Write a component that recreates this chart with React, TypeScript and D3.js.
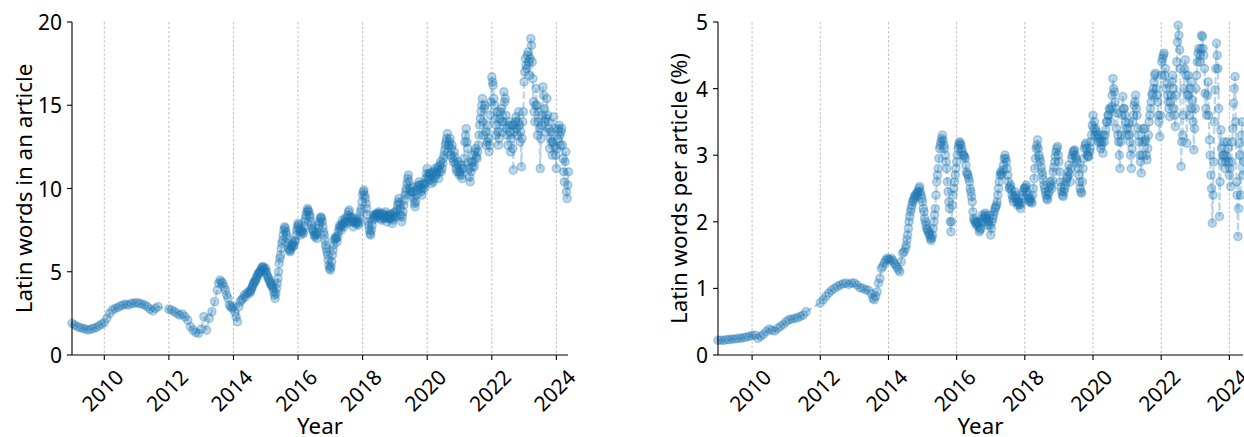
import React from "react";
import * as d3 from "d3";

// ---- DATA ----
// Early part: monthly values starting 2009.0 (step 1/12 year)
const EARLY_START = 2009.0;
const EARLY_STEP = 1 / 12;
// Late part: semi-monthly values starting 2013.5 (step 1/24 year)
const LATE_START = 2013.5;
const LATE_STEP = 1 / 24;
// Extra in-between readings of the dense cloud (offset by 1/48 year)
const MIDA_START = 2014.5 + 1 / 48;
const MIDB_START = 2020 + 1 / 48;
const MID_STEP = 1 / 24;

const wordsEarly: (number | null)[] = [
  1.9, 1.8, 1.7, 1.65, 1.6, 1.55, 1.5, 1.55, 1.6, 1.65, 1.75, 1.85,
  1.95, 2.2, 2.5, 2.7, 2.8, 2.85, 2.95, 3.0, 3.05, 3.0, 3.1, 3.1,
  3.15, 3.1, 3.05, 3.0, 2.9, 2.75, 2.65, 2.8, 2.9, null, null, null,
  2.75, 2.7, 2.6, 2.5, 2.4, 2.45, 2.3, 2.1, 1.7, 1.5, 1.35, 1.3,
  1.55, 2.3, 1.5, 2.2, 2.6, 3.2,
];

const wordsLate: number[] = [
  3.9, 4.3, 4.5, 4.4, 4.3, 4.1, 3.9, 3.6, 3.4, 3.0, 2.9, 2.8,
  2.9, 2.6, 2.3, 2.0, 2.9, 3.2, 3.3, 3.4, 3.6, 3.5, 3.7, 3.8, 3.7, 3.9, 4.1, 4.3, 4.4, 4.6, 4.8, 4.9, 5.0, 5.2, 5.3, 5.1,
  5.2, 4.8, 4.6, 4.4, 4.2, 4.1, 3.8, 3.4, 4.0, 4.6, 5.5, 6.0, 6.7, 7.2, 7.7, 7.4, 7.0, 6.4, 6.2, 6.5, 6.7, 6.6, 6.9, 7.5,
  7.9, 7.6, 7.2, 7.5, 7.3, 8.0, 8.4, 8.8, 8.6, 8.3, 7.8, 7.5, 7.2, 7.3, 7.0, 7.6, 8.0, 8.3, 8.0, 7.4, 6.9, 6.4, 6.0, 5.4,
  5.1, 5.6, 6.3, 6.9, 7.1, 6.8, 7.4, 7.8, 7.5, 8.1, 7.7, 8.2, 7.9, 8.4, 8.7, 8.0, 8.3, 7.7, 8.2, 7.9, 8.1, 7.8, 8.3, 8.8,
  9.6, 9.9, 9.4, 8.8, 8.0, 7.5, 7.2, 7.8, 8.4, 8.2, 8.5, 8.3, 8.6, 8.4, 8.1, 8.5, 8.2, 8.6, 8.0, 8.4, 8.2, 8.5, 7.9, 8.3,
  8.6, 8.3, 9.0, 9.4, 8.8, 8.0, 8.6, 9.3, 9.8, 10.3, 10.8, 10.0, 9.6, 10.1, 9.4, 8.9, 9.6, 10.1, 10.4, 10.0, 9.6, 10.3, 10.0, 10.6,
  11.2, 10.5, 10.9, 10.3, 11.0, 10.6, 11.2, 10.8, 11.3, 11.0, 11.6, 11.2, 11.8, 12.3, 12.8, 13.3, 12.6, 13.0, 12.4, 11.8, 12.2, 11.5, 11.0, 11.6,
  10.8, 11.4, 10.6, 11.2, 12.8, 13.6, 12.4, 11.2, 10.4, 11.6, 12.0, 11.3, 12.4, 11.8, 12.6, 13.8, 14.6, 15.4, 13.2, 15.0, 12.6, 13.8, 12.2, 14.4,
  16.7, 16.2, 15.0, 13.2, 14.6, 12.6, 14.2, 14.8, 13.4, 15.8, 15.4, 13.6, 12.6, 14.0, 12.2, 13.8, 11.1, 13.4, 14.3, 13.2, 14.6, 12.8, 11.3, 14.0,
  16.4, 17.8, 17.2, 18.2, 16.8, 19.0, 17.6, 15.2, 14.0, 16.0, 13.2, 14.6, 11.2, 13.8, 16.1, 14.8, 13.4, 15.4, 14.0, 12.4, 13.4, 12.0, 14.3, 12.5,
  11.2, 13.0, 13.8, 12.6, 13.6, 11.8, 10.4, 12.2, 9.4, 11.0,
];

const wordsMidA: number[] = [
  3.8, 4.0, 4.2, 4.4, 4.5, 4.7, 4.9, 5.0, 5.1, 5.3, 5.2, 5.0,
  5.0, 4.7, 4.5, 4.3, 4.2, 4.0, 3.6, 3.7, 4.3, 5.0, 5.8, 6.4, 6.9, 7.5, 7.6, 7.2, 6.7, 6.3, 6.3, 6.6, 6.5, 6.8, 7.2, 7.7,
  7.8, 7.4, 7.4, 7.4, 7.7, 8.2, 8.6, 8.7, 8.4, 8.0, 7.6, 7.4, 7.1, 7.2, 7.3, 7.8, 8.2, 8.2, 7.7, 7.2, 6.6, 6.2, 5.7, 5.2,
  5.3, 6.0, 6.6, 7.0, 7.0, 7.1, 7.6, 7.7, 7.8, 7.9, 8.0, 8.0, 8.2, 8.6, 8.3, 8.2, 8.0, 8.0, 8.0, 8.0, 7.9, 8.0, 8.6, 9.2,
  9.8, 9.6, 9.1, 8.4, 7.8, 7.3, 7.5, 8.1, 8.3, 8.4, 8.4, 8.5, 8.5, 8.2, 8.3, 8.4, 8.4, 8.3, 8.2, 8.3, 8.4, 8.2, 8.1, 8.5,
  8.4, 8.7, 9.2, 9.1, 8.4, 8.3, 9.0, 9.6, 10.0, 10.6, 10.4, 9.8, 9.8, 9.8, 9.1, 9.2, 9.9, 10.2, 10.2, 9.8, 10.0, 10.2, 10.3, 10.9,
];

const wordsMidB: number[] = [
  10.7, 10.9, 10.5, 10.8, 10.4, 11.0, 10.9, 11.1, 10.6, 11.4, 11.0, 11.5, 12.0, 12.6, 13.0, 12.2, 12.8, 12.0, 12.6, 11.6, 11.9, 11.2, 11.4, 11.0,
  11.0, 10.8, 11.2, 11.8, 13.2, 12.8, 11.6, 10.7, 11.0, 11.3, 11.6, 12.2, 11.9, 12.2, 13.2, 14.2, 15.0, 14.0, 14.8, 13.4, 12.8, 13.0, 12.6, 15.2,
  16.4, 15.4, 14.2, 13.8, 13.4, 13.0, 14.6, 14.0, 14.0, 15.2, 14.4, 13.2, 13.8, 13.4, 13.0, 12.4, 13.8, 14.0, 13.6, 14.0, 13.8, 13.4, 13.0, 14.6,
  17.0, 17.4, 18.0, 17.6, 17.8, 18.6, 16.6, 14.6, 15.0, 15.0, 14.0, 13.6, 13.0, 14.4, 15.6, 14.0, 14.2, 14.4, 13.6, 13.0, 12.8, 12.8, 13.6, 12.0,
  12.4, 13.6, 13.2, 13.4, 12.6, 11.0, 11.6, 9.8, 10.2,
];

const pctEarly: (number | null)[] = [
  0.22, 0.22, 0.22, 0.23, 0.23, 0.24, 0.24, 0.25, 0.25, 0.26, 0.27, 0.28,
  0.29, 0.3, 0.25, 0.28, 0.31, 0.35, 0.39, 0.37, 0.36, 0.4, 0.43, 0.46,
  0.5, 0.53, 0.54, 0.55, 0.56, 0.58, 0.6, 0.65, null, null, null, null,
  0.78, 0.83, 0.88, 0.93, 0.97, 1.0, 1.03, 1.05, 1.07, 1.08, 1.06, 1.08,
  1.08, 1.05, 1.01, 1.0, 0.98, 0.97,
];

const pctLate: number[] = [
  0.92, 0.85, 0.83, 0.88, 0.95, 1.08, 1.15, 1.3, 1.33, 1.38, 1.42, 1.45,
  1.44, 1.42, 1.45, 1.42, 1.38, 1.35, 1.32, 1.28, 1.25, 1.4, 1.53, 1.55, 1.6, 1.73, 1.9, 2.08, 2.2, 2.3, 2.35, 2.4, 2.38, 2.45, 2.53, 2.4,
  2.3, 2.15, 2.0, 1.9, 1.85, 1.8, 1.72, 1.8, 2.0, 2.2, 2.6, 2.8, 3.1, 3.2, 3.3, 3.15, 3.0, 2.8, 2.45, 2.2, 1.85, 2.25, 2.5, 2.7,
  2.9, 3.1, 3.2, 3.15, 3.05, 3.0, 2.95, 2.75, 2.7, 2.6, 2.45, 2.3, 2.05, 2.0, 1.95, 2.0, 1.85, 1.9, 2.1, 2.0, 2.13, 2.05, 1.95, 2.1,
  1.8, 2.0, 2.1, 2.2, 2.25, 2.4, 2.6, 2.75, 2.7, 2.85, 3.0, 2.9, 2.7, 2.5, 2.55, 2.4, 2.3, 2.45, 2.35, 2.25, 2.3, 2.2, 2.35, 2.45,
  2.5, 2.55, 2.4, 2.3, 2.35, 2.28, 2.5, 2.8, 3.1, 3.23, 3.0, 2.9, 2.75, 2.63, 2.5, 2.4, 2.33, 2.45, 2.6, 2.5, 2.75, 2.9, 3.05, 3.13,
  2.9, 2.6, 2.45, 2.38, 2.5, 2.6, 2.68, 2.85, 2.6, 2.95, 3.05, 3.08, 2.95, 2.88, 2.7, 2.5, 2.43, 2.8, 3.1, 3.18, 3.0, 2.98, 3.1, 3.3,
  3.6, 3.5, 3.4, 3.3, 3.25, 3.2, 3.15, 3.03, 3.2, 3.38, 3.5, 3.6, 3.68, 3.73, 4.15, 3.95, 3.7, 3.63, 3.2, 2.8, 3.3, 3.88, 3.7, 3.5,
  3.3, 3.48, 3.2, 2.8, 3.5, 3.75, 3.9, 3.6, 3.3, 3.0, 2.73, 3.2, 3.4, 3.23, 2.93, 3.3, 3.6, 3.8, 3.93, 4.1, 4.23, 3.9, 3.6, 3.28,
  4.2, 4.45, 4.53, 4.3, 4.08, 3.8, 3.58, 3.9, 4.2, 3.7, 3.43, 4.4, 4.95, 4.58, 2.83, 3.3, 4.0, 4.43, 3.18, 4.2, 3.6, 4.1, 3.83, 3.08,
  3.7, 4.2, 4.53, 4.4, 4.6, 4.78, 4.5, 3.93, 3.6, 4.1, 3.23, 2.7, 1.98, 2.9, 3.98, 4.68, 4.3, 2.08, 3.38, 2.9, 3.2, 2.8, 2.98, 3.1,
  2.7, 2.53, 3.2, 3.78, 4.18, 2.6, 1.78, 3.18, 2.4, 3.5, 2.9,
];

const pctMidA: number[] = [
  1.65, 1.8, 2.0, 2.15, 2.25, 2.32, 2.38, 2.42, 2.45, 2.5, 2.45, 2.35,
  2.2, 2.05, 1.95, 1.88, 1.82, 1.75, 1.76, 1.9, 2.1, 2.4, 2.7, 2.95, 3.15, 3.25, 3.22, 3.1, 2.9, 2.6, 2.3, 2.0, 2.0, 2.4, 2.6, 2.8,
  3.0, 3.15, 3.18, 3.1, 3.0, 2.98, 2.85, 2.72, 2.65, 2.5, 2.38, 2.15, 2.02, 1.98, 1.98, 1.92, 1.88, 2.0, 2.05, 2.08, 2.1, 2.0, 2.02, 1.95,
  1.9, 2.05, 2.15, 2.22, 2.3, 2.5, 2.7, 2.72, 2.78, 2.95, 2.95, 2.8, 2.6, 2.52, 2.48, 2.35, 2.38, 2.4, 2.3, 2.28, 2.25, 2.28, 2.4, 2.5,
  2.52, 2.45, 2.35, 2.32, 2.3, 2.4, 2.65, 2.95, 3.15, 3.1, 2.95, 2.82, 2.7, 2.55, 2.45, 2.35, 2.4, 2.52, 2.55, 2.62, 2.82, 2.98, 3.1, 3.0,
  2.75, 2.52, 2.4, 2.45, 2.55, 2.65, 2.75, 2.72, 2.8, 3.0, 3.06, 3.0, 2.92, 2.8, 2.6, 2.45, 2.6, 2.95, 3.15, 3.1, 2.98, 3.05, 3.2, 3.45,
];

const pctMidB: number[] = [
  3.4, 3.3, 3.35, 3.2, 3.3, 3.1, 3.2, 3.3, 3.3, 3.5, 3.6, 3.7, 3.5, 3.9, 4.0, 3.8, 3.4, 3.3, 3.0, 3.2, 3.6, 3.7, 3.6, 3.4,
  3.4, 3.3, 3.0, 3.1, 3.6, 3.8, 3.7, 3.4, 3.2, 2.9, 3.0, 3.4, 3.2, 3.0, 3.1, 3.5, 3.7, 3.9, 4.0, 4.2, 4.0, 3.8, 3.5, 3.6,
  4.4, 4.5, 4.2, 4.0, 3.9, 3.7, 3.8, 4.1, 4.0, 3.6, 3.9, 4.7, 4.8, 4.3, 3.2, 3.6, 4.3, 4.2, 3.9, 3.9, 4.0, 3.7, 3.5, 3.4,
  4.0, 4.4, 4.6, 4.5, 4.8, 4.6, 4.3, 3.7, 3.9, 3.6, 3.0, 2.5, 2.4, 3.5, 4.3, 4.5, 3.7, 2.6, 3.1, 3.0, 3.0, 2.9, 3.2, 2.9,
  2.8, 2.9, 3.4, 4.0, 3.5, 2.4, 2.2, 3.0, 3.3, 2.7,
];

const yearTicks = [2010, 2012, 2014, 2016, 2018, 2020, 2022, 2024];
const wordsTicks = [0, 5, 10, 15, 20];
const pctTicks = [0, 1, 2, 3, 4, 5];

// ---- helpers ----
type Pt = { t: number; v: number };
type Chunk = { start: number; step: number; values: (number | null)[] };
function buildSeries(chunks: Chunk[]): Pt[] {
  const out: Pt[] = [];
  chunks.forEach(({ start, step, values }) => {
    values.forEach((v, i) => {
      if (v != null) out.push({ t: start + i * step, v });
    });
  });
  return out.sort((a, b) => a.t - b.t);
}

const COLOR = "#1f77b4";
const FONT = "'Noto Sans', 'Open Sans', 'DejaVu Sans', sans-serif";
const TICK_FS = 21;
const LABEL_FS = 22.3;

type PanelProps = {
  left: number;
  right: number;
  top: number;
  bottom: number;
  xMax: number;
  yMax: number;
  yTicks: number[];
  data: Pt[];
  ylabel: string;
  ylabelX: number;
};

function Panel({ left, right, top, bottom, xMax, yMax, yTicks, data, ylabel, ylabelX }: PanelProps) {
  const x = d3.scaleLinear().domain([2009.0, xMax]).range([left, right]);
  const y = d3.scaleLinear().domain([0, yMax]).range([bottom, top]);
  const line = d3
    .line<Pt>()
    .x((d) => x(d.t))
    .y((d) => y(d.v));
  return (
    <g>
      {yearTicks.map((t) => (
        <line
          key={"g" + t}
          x1={x(t)}
          x2={x(t)}
          y1={top}
          y2={bottom}
          stroke="#b0b0b0"
          strokeWidth={0.8}
          strokeDasharray="2.5,2"
        />
      ))}
      <path d={line(data) || ""} fill="none" stroke={COLOR} strokeOpacity={0.3} strokeWidth={2.2} strokeDasharray="7,3" />
      {data.map((d, i) => (
        <circle
          key={i}
          cx={x(d.t)}
          cy={y(d.v)}
          r={4.1}
          fill={COLOR}
          fillOpacity={0.3}
          stroke={COLOR}
          strokeOpacity={0.3}
          strokeWidth={1.5}
        />
      ))}
      {/* spines */}
      <line x1={left} x2={left} y1={top} y2={bottom} stroke="#000" strokeWidth={1.1} />
      <line x1={left} x2={right} y1={bottom} y2={bottom} stroke="#000" strokeWidth={1.1} />
      {yTicks.map((v) => (
        <g key={"y" + v}>
          <line x1={left - 5} x2={left} y1={y(v)} y2={y(v)} stroke="#000" strokeWidth={1.1} />
          <text
            x={left - 10}
            y={y(v)}
            textAnchor="end"
            dominantBaseline="central"
            fontSize={TICK_FS}
            fontFamily={FONT}
            fill="#000"
          >
            {v}
          </text>
        </g>
      ))}
      {yearTicks.map((t) => (
        <g key={"x" + t}>
          <line x1={x(t)} x2={x(t)} y1={bottom} y2={bottom + 5} stroke="#000" strokeWidth={1.1} />
          <text
            transform={`translate(${x(t) - 2},${bottom + 35}) rotate(-45)`}
            textAnchor="middle"
            dominantBaseline="central"
            fontSize={TICK_FS}
            fontFamily={FONT}
            fill="#000"
          >
            {t}
          </text>
        </g>
      ))}
      <text
        x={(left + right) / 2}
        y={434}
        textAnchor="middle"
        fontSize={LABEL_FS}
        fontFamily={FONT}
        fill="#000"
      >
        Year
      </text>
      <text
        transform={`translate(${ylabelX},${(top + bottom) / 2}) rotate(-90)`}
        textAnchor="middle"
        dominantBaseline="central"
        fontSize={LABEL_FS}
        fontFamily={FONT}
        fill="#000"
      >
        {ylabel}
      </text>
    </g>
  );
}

export default function App() {
  const words = buildSeries([
    { start: EARLY_START, step: EARLY_STEP, values: wordsEarly },
    { start: LATE_START, step: LATE_STEP, values: wordsLate },
    { start: MIDA_START, step: MID_STEP, values: wordsMidA },
    { start: MIDB_START, step: MID_STEP, values: wordsMidB },
  ]);
  const pct = buildSeries([
    { start: EARLY_START, step: EARLY_STEP, values: pctEarly },
    { start: LATE_START, step: LATE_STEP, values: pctLate },
    { start: MIDA_START, step: MID_STEP, values: pctMidA },
    { start: MIDB_START, step: MID_STEP, values: pctMidB },
  ]);
  return (
    <svg
      width={1244}
      height={437}
      style={{ position: "absolute", left: 0, top: 0, background: "#fff" }}
    >
      <rect width={1244} height={437} fill="#fff" />
      <Panel
        left={72}
        right={568}
        top={22}
        bottom={355}
        xMax={2024.36}
        yMax={20}
        yTicks={wordsTicks}
        data={words}
        ylabel="Latin words in an article"
        ylabelX={23}
      />
      <Panel
        left={718}
        right={1243}
        top={22}
        bottom={355}
        xMax={2024.4}
        yMax={5}
        yTicks={pctTicks}
        data={pct}
        ylabel="Latin words per article (%)"
        ylabelX={678}
      />
    </svg>
  );
}
